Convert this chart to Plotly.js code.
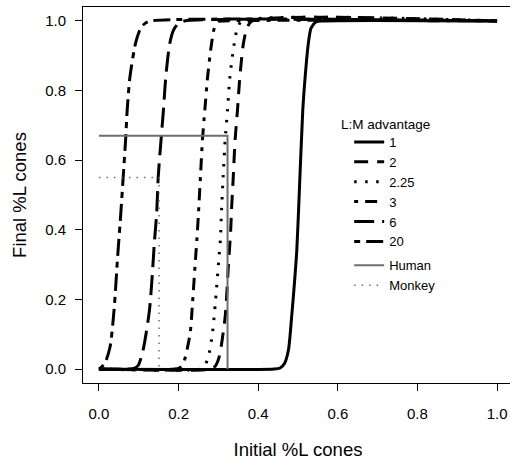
<!DOCTYPE html>
<html>
<head>
<meta charset="utf-8">
<script src="https://cdn.plot.ly/plotly-3.0.1.min.js"></script>
<style>
html,body{margin:0;padding:0;overflow:hidden;background:#fff;}
#chart{width:513px;height:462px;}
</style>
</head>
<body>
<div id="chart"></div>
<script>
// L:M advantage = 1
var x1 = [0, 0.44, 0.455, 0.466, 0.476, 0.484, 0.491, 0.497, 0.503, 0.512, 0.518, 0.526, 0.533, 0.545, 0.56, 1];
var y1 = [0, 0, 0.003, 0.016, 0.055, 0.15, 0.246, 0.342, 0.5, 0.744, 0.84, 0.936, 0.98, 0.997, 1, 1];
// L:M advantage = 2
var x2 = [0, 0.28, 0.292, 0.302, 0.317, 0.325, 0.331, 0.333, 0.337, 0.342, 0.348, 0.354, 0.363, 0.372, 0.385, 1];
var y2 = [0, 0, 0.008, 0.035, 0.15, 0.294, 0.4, 0.457, 0.543, 0.658, 0.744, 0.84, 0.936, 0.98, 1, 1];
// L:M advantage = 2.25
var x225 = [0, 0.255, 0.265, 0.275, 0.285, 0.293, 0.302, 0.305, 0.308, 0.312, 0.317, 0.323, 0.329, 0.34, 0.348, 0.36, 1];
var y225 = [0, 0, 0.008, 0.035, 0.102, 0.198, 0.328, 0.371, 0.457, 0.553, 0.658, 0.744, 0.84, 0.936, 0.98, 1, 1];
// L:M advantage = 3
var x3 = [0, 0.19, 0.203, 0.212, 0.229, 0.235, 0.243, 0.246, 0.25, 0.255, 0.26, 0.266, 0.273, 0.283, 0.29, 0.3, 0.31, 1];
var y3 = [0, 0, 0.004, 0.016, 0.102, 0.189, 0.323, 0.371, 0.447, 0.553, 0.658, 0.744, 0.84, 0.936, 0.98, 0.998, 1, 1];
// L:M advantage = 6
var x6 = [0, 0.075, 0.09, 0.099, 0.111, 0.127, 0.137, 0.139, 0.145, 0.149, 0.156, 0.162, 0.168, 0.178, 0.188, 0.2, 0.215, 1];
var y6 = [0, 0, 0.003, 0.011, 0.055, 0.17, 0.323, 0.361, 0.447, 0.553, 0.658, 0.744, 0.84, 0.936, 0.975, 0.993, 1, 1];
// L:M advantage = 20
var x20 = [0, 0.0025, 0.015, 0.028, 0.038, 0.047, 0.055, 0.061, 0.067, 0.071, 0.078, 0.092, 0.105, 0.116, 0.13, 1];
var y20 = [0, 0.002, 0.017, 0.064, 0.17, 0.323, 0.448, 0.553, 0.658, 0.744, 0.84, 0.936, 0.98, 0.993, 1, 1];
// Human and Monkey reference lines
var humanX = [0, 0.323, 0.323];
var humanY = [0.67, 0.67, 0];
var monkeyX = [0, 0.151, 0.151];
var monkeyY = [0.55, 0.55, 0];

var seriesNames = ["1", "2", "2.25", "3", "6", "20"];
var seriesX = [x1, x2, x225, x3, x6, x20];
var seriesY = [y1, y2, y225, y3, y6, y20];
var dashes = ["solid", "14px,9px", "2.5px,8.5px", "4px,7px,12px,7px", "20px,8px", "6px,6px,17px,6px"];

var FONT = "Liberation Sans, Arial, Helvetica, sans-serif";
var traces = [];
for (var i = 0; i < seriesNames.length; i++) {
  traces.push({
    type: "scatter", mode: "lines", x: seriesX[i], y: seriesY[i], name: seriesNames[i],
    legendgroup: "adv",
    line: {color: "#000", width: 3, dash: dashes[i], shape: "spline", smoothing: 0.7},
    hoverinfo: "skip"
  });
}
traces.push({type: "scatter", mode: "lines", x: humanX, y: humanY, name: "Human", legendgroup: "ref",
  line: {color: "#6e6e6e", width: 2}, hoverinfo: "skip"});
traces.push({type: "scatter", mode: "lines", x: monkeyX, y: monkeyY, name: "Monkey", legendgroup: "ref",
  line: {color: "#6e6e6e", width: 1.5, dash: "1.5px,6px"}, hoverinfo: "skip"});

var tickVals = [0, 0.2, 0.4, 0.6, 0.8, 1.0];
var tickText = ["0.0", "0.2", "0.4", "0.6", "0.8", "1.0"];

var layout = {
  width: 513, height: 462,
  margin: {l: 83, r: 0, t: 7, b: 79},
  paper_bgcolor: "#fff", plot_bgcolor: "#fff",
  font: {family: FONT, color: "#000"},
  showlegend: true,
  legend: {
    x: 0.619, y: 0.681, xanchor: "left", yanchor: "top",
    font: {size: 13, family: FONT, color: "#000"},
    bgcolor: "rgba(0,0,0,0)", borderwidth: 0,
    traceorder: "grouped", tracegroupgap: 4
  },
  annotations: [{
    text: "L:M advantage", xref: "paper", yref: "paper", x: 0.595, y: 0.688,
    xanchor: "left", yanchor: "middle", showarrow: false,
    font: {size: 13.5, family: FONT, color: "#000"}
  }],
  xaxis: {
    range: [-0.04, 1.04], tickvals: tickVals, ticktext: tickText,
    ticks: "outside", ticklen: 7, tickwidth: 1, tickcolor: "#000",
    showline: true, mirror: true, linecolor: "#000", linewidth: 1,
    showgrid: false, zeroline: false,
    tickfont: {size: 15, family: FONT, color: "#000"},
    ticklabelstandoff: 10,
    title: {text: "Initial %L cones", font: {size: 18.5, family: FONT, color: "#000"}, standoff: 22},
    automargin: false
  },
  yaxis: {
    range: [-0.04, 1.04], tickvals: tickVals, ticktext: tickText,
    ticks: "outside", ticklen: 7, tickwidth: 1, tickcolor: "#000",
    showline: true, mirror: true, linecolor: "#000", linewidth: 1,
    showgrid: false, zeroline: false,
    tickfont: {size: 15, family: FONT, color: "#000"},
    ticklabelstandoff: 6,
    title: {text: "Final %L cones", font: {size: 18.5, family: FONT, color: "#000"}, standoff: 13},
    automargin: false
  }
};

Plotly.newPlot("chart", traces, layout, {displayModeBar: false, staticPlot: true});
</script>
</body>
</html>
